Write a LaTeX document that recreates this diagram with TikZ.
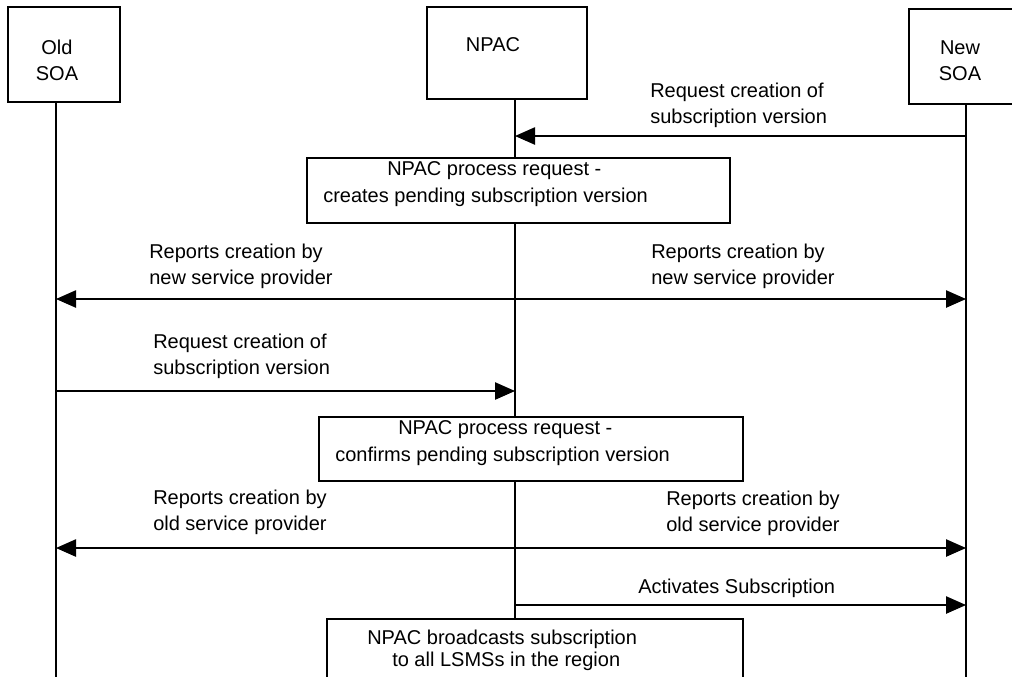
\documentclass[tikz,border=0pt]{standalone}
\usepackage{fontspec}
\setmainfont{Liberation Sans}
\usetikzlibrary{arrows.meta}

\tikzset{
  lbl/.style={inner sep=0pt,align=left,anchor=west,font=\fontsize{15}{19.5}\selectfont},
  headbox/.style={draw,line width=1.1pt,fill=white,inner sep=0pt},
  procbox/.style={draw,line width=1.1pt,fill=white,inner sep=0pt},
  msgline/.style={line width=1pt,-{Triangle[length=15pt,width=13pt]}},
  twoway/.style={line width=1pt,{Triangle[length=15pt,width=13pt]}-{Triangle[length=15pt,width=13pt]}},
  lifeline/.style={line width=1.1pt}
}

\begin{document}
\begin{tikzpicture}[x=0.75pt,y=-0.75pt]
	\clip (0,0) rectangle (1012,676);
	\fill[white] (0,0) rectangle (1012,676);

	%% lifeline positions
	\coordinate (oldtop) at (56,102);
	\coordinate (oldbot) at (56,690);
	\coordinate (npactop) at (515,99);
	\coordinate (npacbot) at (515,619);
	\coordinate (newtop) at (966,104);
	\coordinate (newbot) at (966,690);

	%% message heights
	\coordinate (m1) at (0,136);
	\coordinate (m2) at (0,299);
	\coordinate (m3) at (0,391);
	\coordinate (m4) at (0,548);
	\coordinate (m5) at (0,605);

	%% lifelines (boxes are drawn over them)
	\draw[lifeline] (oldtop) -- (oldbot);
	\draw[lifeline] (npactop) -- (npacbot);
	\draw[lifeline] (newtop) -- (newbot);

	%% heads
	\node[headbox,minimum width=84pt,minimum height=71.25pt] (oldsoa) at (64,54.5) {};
	\node[lbl,anchor=center,align=center] (oldsoatxt) at (57,60) {Old\\SOA};
	\node[headbox,minimum width=120pt,minimum height=69pt] (npac) at (507,53) {};
	\node[lbl,anchor=center] (npactxt) at (493,45) {NPAC};
	\node[headbox,minimum width=84pt,minimum height=71.25pt] (newsoa) at (965,56.5) {};
	\node[lbl,anchor=center,align=center] (newsoatxt) at (960,61) {New\\SOA};

	%% New SOA -> NPAC
	\draw[msgline] (newtop |- m1) -- (npactop |- m1);
	\node[lbl] (req1) at (650,105) {Request creation of\\subscription version};

	%% NPAC creates pending version
	\node[procbox,minimum width=317.25pt,minimum height=48.75pt] (create) at (518.5,190.5) {};
	\node[lbl] (createa) at (387,171) {NPAC process request -};
	\node[lbl] (createb) at (323,197) {creates pending subscription version};

	%% reports to both SOAs
	\draw[twoway] (oldtop |- m2) -- (newtop |- m2);
	\node[lbl] (rep1l) at (149,266) {Reports creation by\\new service provider};
	\node[lbl] (rep1r) at (651,266) {Reports creation by\\new service provider};

	%% Old SOA -> NPAC
	\draw[msgline] (oldtop |- m3) -- (npactop |- m3);
	\node[lbl] (req2) at (153,356) {Request creation of\\subscription version};

	%% NPAC confirms pending version
	\node[procbox,minimum width=318pt,minimum height=48pt] (confirm) at (531,449) {};
	\node[lbl] (confirma) at (398,430) {NPAC process request -};
	\node[lbl] (confirmb) at (335,456) {confirms pending subscription version};

	%% reports to both SOAs
	\draw[twoway] (oldtop |- m4) -- (newtop |- m4);
	\node[lbl] (rep2l) at (153,512) {Reports creation by\\old service provider};
	\node[lbl] (rep2r) at (666,513) {Reports creation by\\old service provider};

	%% activation
	\draw[msgline] (npactop |- m5) -- (newtop |- m5);
	\node[lbl] (act) at (638,588) {Activates Subscription};

	%% broadcast
	\node[procbox,minimum width=312pt,minimum height=60pt] (bcast) at (535,659) {};
	\node[lbl] (bcasta) at (367,639) {NPAC broadcasts subscription};
	\node[lbl] (bcastb) at (392,661) {to all LSMSs in the region};
\end{tikzpicture}
\end{document}
